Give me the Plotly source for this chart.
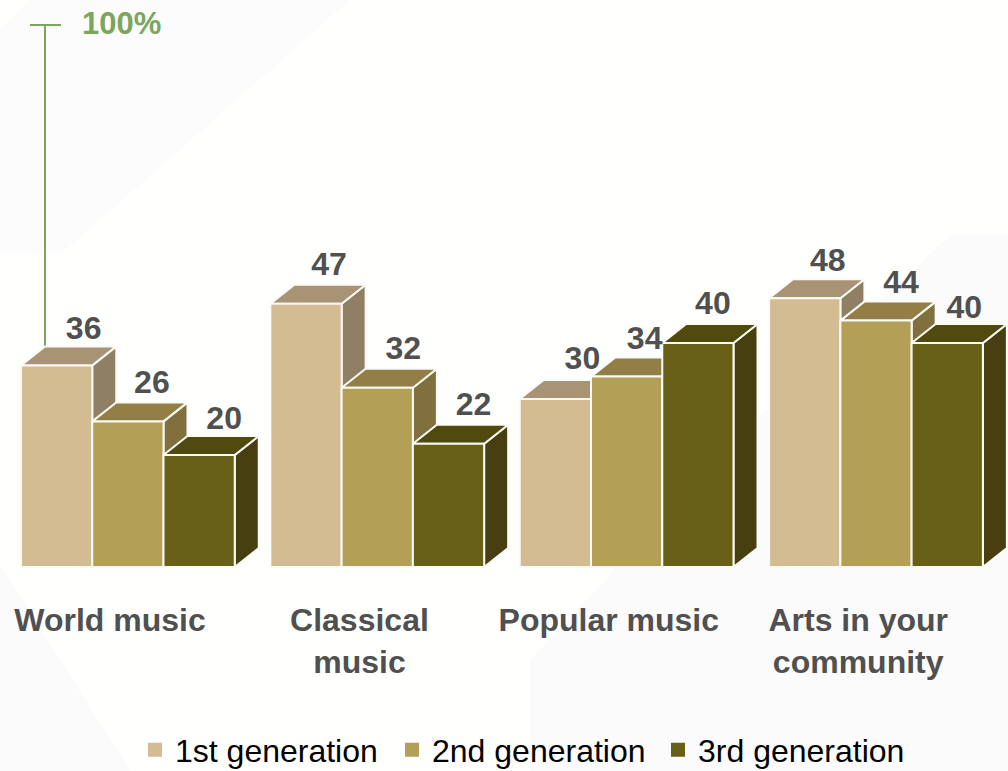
import plotly.graph_objects as go

W, H = 1008, 771
CATEGORIES = ["World music", "Classical<br>music", "Popular music", "Arts in your<br>community"]
SERIES = ["1st generation", "2nd generation", "3rd generation"]
GEN1 = [36, 47, 30, 48]
GEN2 = [26, 32, 34, 44]
GEN3 = [20, 22, 40, 40]
VALUES = [GEN1, GEN2, GEN3]

FRONT = ["#d3bb92", "#b3a056", "#696018"]
TOP = ["#a89375", "#937f45", "#514a0e"]
SIDE = ["#8f7f65", "#7f703d", "#483f11"]
EDGE = "#fafaf6"
TEXT = "#505050"
GREEN = "#7aa65e"
FONT = "Liberation Sans, Arial, sans-serif"

# scales
PX_X = 71.25            # pixels per bar width
PX_Y = 5.6              # pixels per percentage point
LEFT_PX, BASE_PX = 21, 567
PLOT_BOTTOM_PX = 590
GROUP_STEP = 3.5        # bar widths between group starts
DX, DY = 24 / PX_X, 19 / PX_Y   # 3D depth
AXIS_TOP = (BASE_PX - 25) / PX_Y

xrange_ = [-LEFT_PX / PX_X, (W - LEFT_PX) / PX_X]
yrange_ = [(BASE_PX - PLOT_BOTTOM_PX) / PX_Y, BASE_PX / PX_Y]

# label nudges in pixels relative to the default spot above each bar
NUDGE = [[(3, -5), (0, -3), (1, -5)],
         [(-1, -2), (2, -2), (1, -2)],
         [(3, -1), (-6, -3), (-9, -2)],
         [(-1, -4), (1, -3), (-7, -6)]]
LEGEND_LEFT_PX = [135, 392, 658]
LEGEND_MID_PX = 750

fig = go.Figure()


def poly(points_list, color, line=EDGE):
    xs, ys = [], []
    for pts in points_list:
        xs += [p[0] for p in pts] + [pts[0][0], None]
        ys += [p[1] for p in pts] + [pts[0][1], None]
    return go.Scatter(x=xs, y=ys, mode="lines", fill="toself", fillcolor=color,
                      line=dict(color=line, width=2), showlegend=False, hoverinfo="skip")


# axis line with its top tick, behind the bars
fig.add_trace(go.Scatter(x=[DX, DX], y=[30, AXIS_TOP], mode="lines",
                         line=dict(color=GREEN, width=2), showlegend=False, hoverinfo="skip"))
fig.add_trace(go.Scatter(x=[DX - 15 / PX_X, DX + 16 / PX_X], y=[AXIS_TOP, AXIS_TOP], mode="lines",
                         line=dict(color=GREEN, width=2), showlegend=False, hoverinfo="skip"))

for s, vals in enumerate(VALUES):
    sides, tops, fronts = [], [], []
    for g, v in enumerate(vals):
        x0 = g * GROUP_STEP + s
        x1 = x0 + 1
        sides.append([(x1, 0), (x1 + DX, DY), (x1 + DX, v + DY), (x1, v)])
        tops.append([(x0, v), (x0 + DX, v + DY), (x1 + DX, v + DY), (x1, v)])
        fronts.append([(x0, 0), (x0, v), (x1, v), (x1, 0)])
    fig.add_trace(poly(sides, SIDE[s]))
    fig.add_trace(poly(tops, TOP[s]))
    fig.add_trace(poly(fronts, FRONT[s]))

# data labels
lx, ly, lt = [], [], []
for s, vals in enumerate(VALUES):
    for g, v in enumerate(vals):
        nx, ny = NUDGE[g][s]
        lx.append(g * GROUP_STEP + s + 0.5 + (24 + nx) / PX_X)
        ly.append(v + (39 + ny) / PX_Y)
        lt.append(str(v))
fig.add_trace(go.Scatter(x=lx, y=ly, text=lt, mode="text", textposition="middle center",
                         textfont=dict(family=FONT, size=32, color=TEXT, weight="bold"),
                         showlegend=False, hoverinfo="skip"))

# legend entries, one legend each so their spacing can follow the reference
legends = {}
for s, name in enumerate(SERIES):
    key = "legend" if s == 0 else f"legend{s + 1}"
    fig.add_trace(go.Scatter(x=[None], y=[None], mode="markers", name=name, legend=key,
                             marker=dict(symbol="square", size=14, color=FRONT[s])))
    legends[key] = dict(orientation="h", xref="container", yref="container",
                        x=LEGEND_LEFT_PX[s] / W, xanchor="left",
                        y=1 - LEGEND_MID_PX / H, yanchor="middle",
                        font=dict(family=FONT, size=32, color="#000000"),
                        bgcolor="rgba(0,0,0,0)", itemclick=False, itemdoubleclick=False)

fig.add_annotation(x=DX + 37 / PX_X, y=AXIS_TOP + 2 / PX_Y, text="<b>100%</b>", showarrow=False,
                   xanchor="left", yanchor="middle", xshift=-2,
                   font=dict(family=FONT, size=31, color=GREEN))

# faint background panels
bg = [("M 30 0 L 350 0 L 60 255 L 0 255 L 0 30 Z", "#fcfcfd"),
      ("M 530 771 L 530 660 L 760 415 L 950 235 L 1008 235 L 1008 771 Z", "#fbfbfb"),
      ("M 0 565 L 130 771 L 0 771 Z", "#fbfbfb")]
shapes = []
for path, col in bg:
    parts = path.replace("M", "").replace("Z", "").split("L")
    pts = [tuple(float(t) for t in p.split()) for p in parts]
    d = "M " + " L ".join(f"{px / W:.4f} {1 - py / PLOT_BOTTOM_PX:.4f}" for px, py in pts) + " Z"
    shapes.append(dict(type="path", xref="paper", yref="paper", path=d, fillcolor=col,
                       line=dict(width=0), layer="below"))

fig.update_layout(
    width=W, height=H,
    margin=dict(l=0, r=0, t=0, b=H - PLOT_BOTTOM_PX, pad=0),
    paper_bgcolor="#fffffd", plot_bgcolor="rgba(0,0,0,0)",
    shapes=shapes,
    hovermode=False,
    xaxis=dict(range=xrange_, showgrid=False, zeroline=False, showline=False, fixedrange=True,
               tickmode="array",
               tickvals=[g * GROUP_STEP + 1.25 for g in range(len(CATEGORIES))],
               ticktext=[f"<b>{c}</b>" for c in CATEGORIES],
               ticks="", tickangle=0, automargin=False, ticklabelstandoff=8,
               tickfont=dict(family=FONT, size=32, color=TEXT)),
    yaxis=dict(range=yrange_, visible=False, fixedrange=True),
    **legends,
)
fig.write_html("out.html", config=dict(displayModeBar=False),
               post_script="document.body.style.margin='0';document.documentElement.style.overflow='hidden';")
